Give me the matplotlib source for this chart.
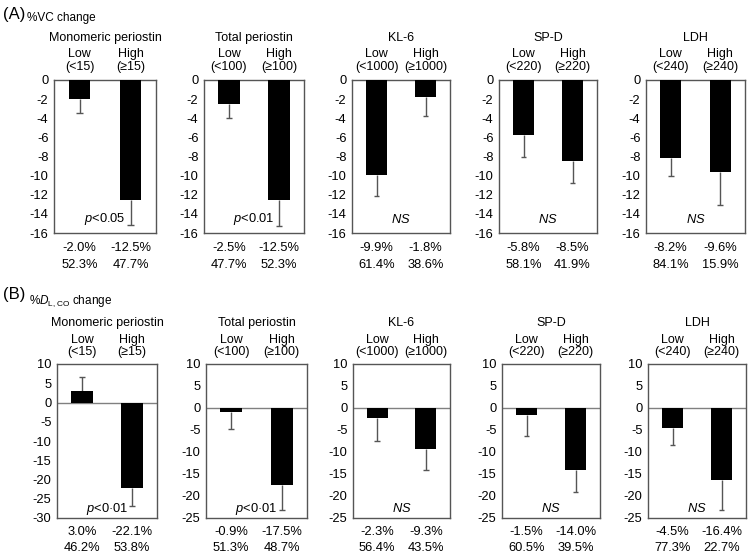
import matplotlib
matplotlib.use("Agg")
import matplotlib.pyplot as plt

plt.rcParams['font.family'] = ['Liberation Sans', 'DejaVu Sans']
plt.rcParams['mathtext.fontset'] = 'custom'
plt.rcParams['mathtext.rm'] = 'Liberation Sans'
plt.rcParams['mathtext.it'] = 'Liberation Sans:italic'
plt.rcParams['mathtext.bf'] = 'Liberation Sans:bold'

markers = ["Monomeric periostin", "Total periostin", "KL-6", "SP-D", "LDH"]
groups = ["Low", "High"]
ranges = [["(<15)", "(≥15)"], ["(<100)", "(≥100)"], ["(<1000)", "(≥1000)"],
          ["(<220)", "(≥220)"], ["(<240)", "(≥240)"]]

# (A) %VC change
vc_mean = [[-2.0, -12.5], [-2.5, -12.5], [-9.9, -1.8], [-5.8, -8.5], [-8.2, -9.6]]
vc_err = [[1.5, 2.7], [1.5, 2.8], [2.2, 2.0], [2.3, 2.3], [1.8, 3.5]]
vc_pct = [["52.3%", "47.7%"], ["47.7%", "52.3%"], ["61.4%", "38.6%"],
          ["58.1%", "41.9%"], ["84.1%", "15.9%"]]
vc_p = ["p<0.05", "p<0.01", "NS", "NS", "NS"]

# (B) %DLCO change
dl_mean = [[3.0, -22.1], [-0.9, -17.5], [-2.3, -9.3], [-1.5, -14.0], [-4.5, -16.4]]
dl_err = [[3.5, 4.9], [3.9, 5.6], [5.1, 4.7], [4.8, 5.2], [3.9, 6.7]]
dl_pct = [["46.2%", "53.8%"], ["51.3%", "48.7%"], ["56.4%", "43.5%"],
          ["60.5%", "39.5%"], ["77.3%", "22.7%"]]
dl_p = ["p<0·01", "p<0·01", "NS", "NS", "NS"]

W, H = 748, 556
fig = plt.figure(figsize=(W / 100, H / 100), dpi=100)

FS = 9
TFS = 9.3
GRAY = '#555555'

def px_axes(l, r, t, b):
    return fig.add_axes([l / W, 1 - b / H, (r - l) / W, (b - t) / H])

def fmt_val(v):
    return f"{v:.1f}%"

def p_label(s):
    if s.startswith("p"):
        return r"$\mathit{p}$" + s[1:]
    return r"$\mathit{" + s + "}$"

def draw_panel(ax, i, means, errs, pcts, ptxt, ylim, yticks, p_y, offs):
    x = [0, 1]
    ax.bar(x, means, width=0.43, color='black', zorder=3)
    for xi, m, e in zip(x, means, errs):
        end = m + e if m >= 0 else m - e
        ax.vlines(xi, m, end, color=GRAY, lw=1, zorder=2)
        ax.hlines(end, xi - 0.06, xi + 0.06, color=GRAY, lw=1, zorder=2)
    ax.set_xlim(-0.5, 1.5)
    ax.set_ylim(*ylim)
    ax.set_yticks(yticks)
    ax.set_yticklabels([str(t) for t in yticks], fontsize=TFS)
    ax.tick_params(axis='y', length=0, pad=4)
    ax.set_xticks([])
    for s in ax.spines.values():
        s.set_color(GRAY)
        s.set_linewidth(1)
    if ylim[1] > 0:
        ax.axhline(0, color='#808080', lw=1, zorder=1)
    t_title, t_grp, t_rng, t_val, t_pct = offs
    ax.annotate(markers[i], xy=(0.5, 1), xycoords='axes fraction',
                xytext=(0, t_title), textcoords='offset pixels',
                ha='center', va='center', fontsize=FS)
    for xi in x:
        ax.annotate(groups[xi], xy=(xi, 1), xycoords=('data', 'axes fraction'),
                    xytext=(0, t_grp), textcoords='offset pixels',
                    ha='center', va='center', fontsize=FS)
        ax.annotate(ranges[i][xi], xy=(xi, 1), xycoords=('data', 'axes fraction'),
                    xytext=(0, t_rng), textcoords='offset pixels',
                    ha='center', va='center', fontsize=FS)
        ax.annotate(fmt_val(means[xi]), xy=(xi, 0), xycoords=('data', 'axes fraction'),
                    xytext=(0, t_val), textcoords='offset pixels',
                    ha='center', va='center', fontsize=TFS)
        ax.annotate(pcts[xi], xy=(xi, 0), xycoords=('data', 'axes fraction'),
                    xytext=(0, t_pct), textcoords='offset pixels',
                    ha='center', va='center', fontsize=TFS)
    ax.text(0.5, p_y, p_label(ptxt), transform=ax.transAxes, ha='center',
            va='center', fontsize=TFS, zorder=5)

A_l = [54, 204, 352, 499, 646]
A_r = [156, 304, 450, 597, 745]
B_l = [57, 206, 353, 502, 648]
B_r = [157, 307, 450, 600, 746]

for i in range(5):
    ax = px_axes(A_l[i], A_r[i], 80, 233)
    draw_panel(ax, i, vc_mean[i], vc_err[i], vc_pct[i], vc_p[i],
               (-16, 0), list(range(0, -17, -2)), 0.09,
               (42, 26, 13, -15, -32))

for i in range(5):
    ax = px_axes(B_l[i], B_r[i], 364, 518)
    if i == 0:
        ylim, yt = (-30, 10), list(range(10, -31, -5))
    else:
        ylim, yt = (-25, 10), list(range(10, -26, -5))
    draw_panel(ax, i, dl_mean[i], dl_err[i], dl_pct[i], dl_p[i],
               ylim, yt, 0.06, (41, 24, 12, -14, -30))

fig.text(3 / W, 1 - 15 / H, "(A)", fontsize=12, ha='left', va='center')
fig.text(27 / W, 1 - 18 / H, "%VC change", fontsize=8.5, ha='left', va='center')
fig.text(3 / W, 1 - 295 / H, "(B)", fontsize=12, ha='left', va='center')
fig.text(29 / W, 1 - 301 / H, r"%$\mathit{D}_{\mathrm{L,CO}}$ change", fontsize=8.5,
         ha='left', va='center')

fig.savefig("out.png", dpi=100)
